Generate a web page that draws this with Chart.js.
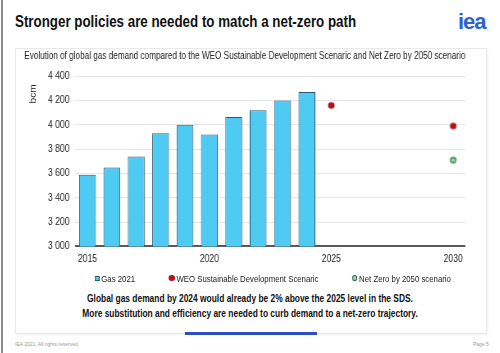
<!DOCTYPE html>
<html>
<head>
<meta charset="utf-8">
<script src="https://cdn.jsdelivr.net/npm/chart.js@4"></script>
<style>
    body { margin: 0; width: 500px; height: 353px; background: #fff; position: relative; overflow: hidden; font-family: "Liberation Sans", Arial, sans-serif; }
    .edge { position: absolute; left: 1px; top: 0; width: 2px; height: 353px; background: #8a8a8a; }
    .narrow { display: inline-block; transform-origin: left top; white-space: nowrap; }
    .title { position: absolute; left: 15px; top: 12px; font-size: 17px; font-weight: bold; color: #111; transform: scaleX(0.785); }
    .logo { position: absolute; left: 458px; top: 9px; font-size: 22px; font-weight: bold; color: #2d63cf; letter-spacing: -1px; }
    .panel { position: absolute; left: 15px; top: 48px; width: 472px; height: 286px; border: 1px solid #e9e9e9; box-sizing: border-box; box-shadow: 1px 1px 2px rgba(0,0,0,0.06); }
    /* chart is laid out wide and squeezed, to get the narrow lettering of the slide */
    .chart-wrap { position: absolute; left: 16px; top: 49px; width: 573px; height: 240px; transform: scaleX(0.82); transform-origin: left top; }
    .chart-wrap canvas { position: absolute; left: 0; top: 0; }
    #legend { position: absolute; left: 96px; top: 222px; height: 14px; display: flex; align-items: center; font-size: 9.5px; color: #222; white-space: nowrap; }
    #legend .item { display: flex; align-items: center; margin-right: 41px; }
    #legend .mark { display: inline-block; margin-right: 2px; box-sizing: border-box; }
    .note { position: absolute; left: 0; width: 500px; top: 291px; text-align: center; }
    .note div { font-size: 10.5px; font-weight: bold; line-height: 14.5px; color: #111; transform: scaleX(0.8); white-space: nowrap; }
    .bar { position: absolute; left: 185px; top: 332px; width: 132px; height: 3px; background: #2b4fbf; }
    .foot { position: absolute; top: 341px; font-size: 5px; color: #999; }
</style>
</head>
<body>
<div class="edge"></div>
<div class="title narrow">Stronger policies are needed to match a net-zero path</div>
<div class="logo">iea</div>
<div class="panel"></div>
<div class="chart-wrap">
    <canvas id="gasChart" width="573" height="228"></canvas>
    <div id="legend"></div>
</div>
<div class="note">
    <div>Global gas demand by 2024 would already be 2% above the 2025 level in the SDS.</div>
    <div>More substitution and efficiency are needed to curb demand to a net-zero trajectory.</div>
</div>
<div class="bar"></div>
<div class="foot" style="left:15px">IEA 2021. All rights reserved.</div>
<div class="foot" style="left:473px">Page 5</div>
<script>
    const years = ['2015', '2016', '2017', '2018', '2019', '2020', '2021', '2022',
        '2023', '2024', '2025', '2026', '2027', '2028', '2029', '2030'];
    const shownYears = ['2015', '2020', '2025', '2030'];
    const gas2021 = [3590, 3650, 3740, 3930, 4000, 3920, 4065, 4120, 4200, 4270,
        null, null, null, null, null, null];
    const sds = [null, null, null, null, null, null, null, null, null, null,
        4160, null, null, null, null, 3990];
    const netZero = [null, null, null, null, null, null, null, null, null, null,
        null, null, null, null, null, 3710];

    const squeeze = 0.82;
    const blue = '#4fcaf2', blueEdge = '#2b5a6c';
    const red = '#b5131c';
    const green = '#93d6a8', greenEdge = '#2e6b44';

    // point images drawn wider so they stay round after the squeeze
    function dot(fill, stroke, r, lw) {
        const c = document.createElement('canvas');
        const rx = r / squeeze;
        c.width = Math.ceil(rx * 2 + 2);
        c.height = Math.ceil(r * 2 + 2);
        const g = c.getContext('2d');
        g.beginPath();
        g.ellipse(c.width / 2, c.height / 2, rx - lw / 2, r - lw / 2, 0, 0, Math.PI * 2);
        g.fillStyle = fill;
        g.fill();
        if (lw > 0) {
            g.lineWidth = lw;
            g.strokeStyle = stroke;
            g.stroke();
        }
        return c;
    }

    const tickFont = { family: '"Liberation Sans", Arial, sans-serif', size: 10.5 };

    const chart = new Chart(document.getElementById('gasChart'), {
        type: 'bar',
        data: {
            labels: years,
            datasets: [{
                label: 'Gas 2021',
                data: gas2021,
                backgroundColor: blue,
                borderColor: blueEdge,
                borderWidth: 1,
                barPercentage: 0.69,
                categoryPercentage: 1
            }, {
                label: 'WEO Sustainable Development Scenaric',
                type: 'line',
                data: sds,
                showLine: false,
                pointStyle: dot(red, red, 3.3, 0),
                pointRadius: 3.3,
                backgroundColor: red,
                borderColor: red
            }, {
                label: 'Net Zero by 2050 scenario',
                type: 'line',
                data: netZero,
                showLine: false,
                pointStyle: dot(green, greenEdge, 3.3, 1.2),
                pointRadius: 3.3,
                backgroundColor: green,
                borderColor: greenEdge
            }]
        },
        options: {
            responsive: false,
            animation: false,
            layout: { padding: { left: 10, right: 25, top: 0, bottom: 6 } },
            plugins: {
                title: {
                    display: true,
                    text: 'Evolution of global gas demand compared to the WEO Sustainable Development Scenaric and Net Zero by 2050 scenario',
                    align: 'start',
                    color: '#222',
                    font: { family: '"Liberation Sans", Arial, sans-serif', size: 11, weight: 'normal' },
                    padding: { top: 0, bottom: 14 }
                },
                legend: { display: false },
                tooltip: { enabled: false }
            },
            scales: {
                x: {
                    grid: { display: false, drawTicks: false },
                    border: { display: false },
                    ticks: {
                        autoSkip: false,
                        maxRotation: 0,
                        padding: 6,
                        color: '#222',
                        font: tickFont,
                        callback: function (val, i) {
                            return shownYears.includes(years[i]) ? years[i] : '';
                        }
                    }
                },
                y: {
                    min: 3000,
                    max: 4400,
                    title: {
                        display: true,
                        text: 'bcm   ',
                        align: 'end',
                        color: '#222',
                        font: { family: '"Liberation Sans", Arial, sans-serif', size: 10 },
                        padding: { top: 5, bottom: 5 }
                    },
                    grid: {
                        drawTicks: false,
                        color: function (c) { return c.tick.value === 3000 ? '#5a5a5a' : '#e6e6e6'; },
                        lineWidth: function (c) { return c.tick.value === 3000 ? 2 : 1; }
                    },
                    border: { display: false },
                    ticks: {
                        stepSize: 200,
                        padding: 7,
                        color: '#222',
                        font: tickFont,
                        callback: function (v) { return String(v).replace(/\B(?=(\d{3})+(?!\d))/g, ' '); }
                    }
                }
            }
        }
    });

    // legend built from the datasets
    const marks = [
        { w: 6, h: 5, bg: blue, border: '1px solid ' + blueEdge, radius: '0' },
        { w: 7.5, h: 6, bg: red, border: 'none', radius: '50%' },
        { w: 6.5, h: 5.5, bg: green, border: '1px solid ' + greenEdge, radius: '50%' }
    ];
    const legendEl = document.getElementById('legend');
    chart.data.datasets.forEach(function (ds, i) {
        const item = document.createElement('span');
        item.className = 'item';
        const m = document.createElement('span');
        m.className = 'mark';
        m.style.width = marks[i].w + 'px';
        m.style.height = marks[i].h + 'px';
        m.style.background = marks[i].bg;
        m.style.border = marks[i].border;
        m.style.borderRadius = marks[i].radius;
        const t = document.createElement('span');
        t.textContent = ds.label;
        item.appendChild(m);
        item.appendChild(t);
        legendEl.appendChild(item);
    });
</script>
</body>
</html>
